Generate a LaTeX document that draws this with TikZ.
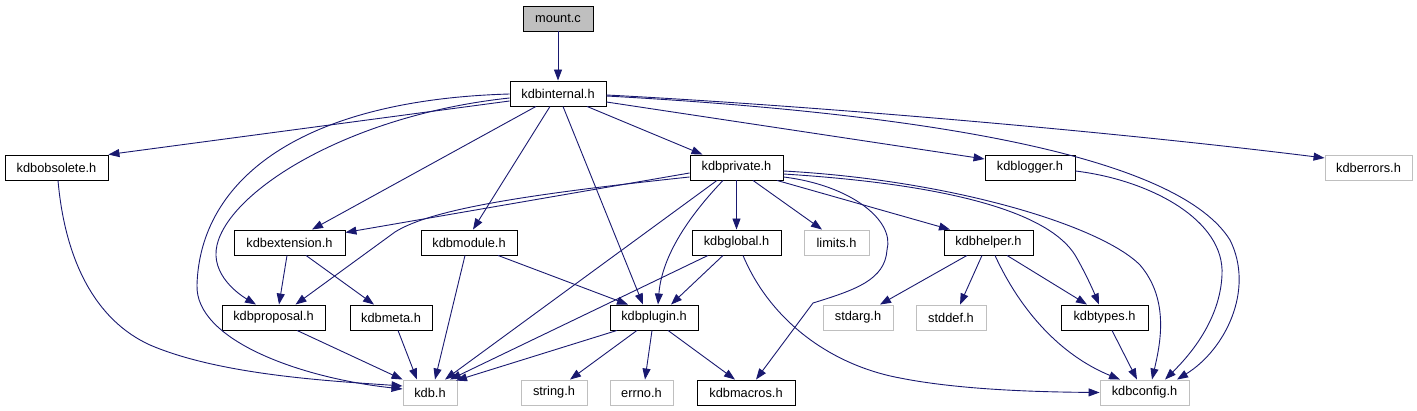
\documentclass[tikz,border=0pt]{standalone}
\usepackage{fontspec}
\setmainfont{Liberation Sans}
\usetikzlibrary{arrows.meta}
\definecolor{edgec}{HTML}{191970}
\definecolor{sysgray}{HTML}{BFBFBF}
\begin{document}
\begin{tikzpicture}[x=1pt,y=-1pt,
  box/.style={draw=black, line width=0.9pt, minimum height=25pt, inner sep=0pt, fill=white,
    font=\fontsize{12.8}{14}\selectfont},
  doc/.style={box},
  sys/.style={box, draw=sysgray},
  root/.style={box, fill=sysgray},
  edge/.style={draw=edgec, line width=0.9pt, -{Triangle[length=11pt,width=8pt]}}]
\useasboundingbox (0,0) rectangle (1417,411);
% row 0
\node[root, minimum width=70pt] (mount) at (558,18.5) {mount.c};
% row 1
\node[doc, minimum width=96pt] (kdbinternal) at (558,93.5) {kdbinternal.h};
% row 2
\node[doc, minimum width=103pt] (kdbobsolete) at (56.5,167.5) {kdbobsolete.h};
\node[doc, minimum width=93pt] (kdbprivate) at (736.5,167.5) {kdbprivate.h};
\node[doc, minimum width=90pt] (kdblogger) at (1030,167.5) {kdblogger.h};
\node[sys, minimum width=87pt] (kdberrors) at (1368.5,167.5) {kdberrors.h};
% row 3
\node[doc, minimum width=111pt] (kdbextension) at (289.5,242.5) {kdbextension.h};
\node[doc, minimum width=96pt] (kdbmodule) at (469,242.5) {kdbmodule.h};
\node[doc, minimum width=89pt] (kdbglobal) at (736.5,242.5) {kdbglobal.h};
\node[sys, minimum width=65pt] (limits) at (836.5,242.5) {limits.h};
\node[doc, minimum width=89pt] (kdbhelper) at (988.5,242.5) {kdbhelper.h};
% row 4
\node[doc, minimum width=103pt] (kdbproposal) at (273.5,317.5) {kdbproposal.h};
\node[doc, minimum width=82pt] (kdbmeta) at (391,317.5) {kdbmeta.h};
\node[doc, minimum width=88pt] (kdbplugin) at (654,317.5) {kdbplugin.h};
\node[sys, minimum width=70pt] (stdarg) at (858,317.5) {stdarg.h};
\node[sys, minimum width=70pt] (stddef) at (951,317.5) {stddef.h};
\node[doc, minimum width=87pt] (kdbtypes) at (1104.5,317.5) {kdbtypes.h};
% row 5
\node[sys, minimum width=54pt] (kdb) at (430,392.5) {kdb.h};
\node[sys, minimum width=66pt] (string) at (554,392.5) {string.h};
\node[sys, minimum width=63pt] (errno) at (641.5,392.5) {errno.h};
\node[doc, minimum width=98pt] (kdbmacros) at (746,392.5) {kdbmacros.h};
\node[sys, minimum width=89pt] (kdbconfig) at (1144.5,392.5) {kdbconfig.h};

% edges from mount.c
\draw[edge] (mount.south) -- (kdbinternal.north);
% edges from kdbinternal.h
\draw[edge] ([yshift=-7.5pt]kdbinternal.west) -- (kdbobsolete.north east);
\draw[edge] ([yshift=-0.5pt]kdbinternal.west) .. controls (300,100) and (200,180) .. (197,285)
  .. controls (195,340) and (300,378) .. ([yshift=3.5pt]kdb.west);
\draw[edge] ([yshift=-4.5pt]kdbinternal.west) .. controls (350,115) and (230,190) .. (217,245)
  .. controls (210,275) and (240,295) .. ([xshift=-17.5pt]kdbproposal.north);
\draw[edge] ([xshift=-22pt]kdbinternal.south) -- ([xshift=22.5pt]kdbextension.north);
\draw[edge] ([xshift=-8pt]kdbinternal.south) -- ([xshift=4pt]kdbmodule.north);
\draw[edge] ([xshift=5pt]kdbinternal.south) -- ([xshift=-11pt]kdbplugin.north);
\draw[edge] ([xshift=29pt]kdbinternal.south) -- ([xshift=-34pt]kdbprivate.north);
\draw[edge] ([yshift=-8.5pt]kdbinternal.east) -- ([yshift=8.5pt]kdblogger.west);
\draw[edge] ([yshift=-1.5pt]kdbinternal.east) .. controls (800,105) and (1100,130) .. ([yshift=9.5pt]kdberrors.west);
\draw[edge] ([yshift=-2.5pt]kdbinternal.east) .. controls (950,115) and (1180,160) .. (1230,240)
  .. controls (1255,290) and (1225,350) .. ([xshift=32.5pt]kdbconfig.north);
% kdblogger / kdbobsolete
\draw[edge] ([yshift=-3.5pt]kdblogger.east) .. controls (1150,180) and (1225,220) .. (1222,275)
  .. controls (1220,320) and (1190,355) .. ([xshift=20.5pt]kdbconfig.north);
\draw[edge] ([xshift=1.5pt]kdbobsolete.south) .. controls (65,260) and (95,320) .. (150,345)
  .. controls (220,375) and (330,381) .. ([yshift=6.5pt]kdb.west);
% edges from kdbprivate.h
\draw[edge] ([yshift=-5.5pt]kdbprivate.west) -- ([yshift=10pt]kdbextension.east);
\draw[edge] ([yshift=-9.5pt]kdbprivate.west) .. controls (520,195) and (430,210) .. (395,232)
  -- ([xshift=22pt]kdbproposal.north);
\draw[edge] ([xshift=-19.5pt]kdbprivate.south) -- ([xshift=15pt]kdb.north);
\draw[edge] ([xshift=-13.5pt]kdbprivate.south) .. controls (690,215) and (662,255) .. ([xshift=4pt]kdbplugin.north);
\draw[edge] (kdbprivate.south) -- (kdbglobal.north);
\draw[edge] ([xshift=16.5pt]kdbprivate.south) -- ([xshift=-14.5pt]limits.north);
\draw[edge] ([xshift=40.5pt]kdbprivate.south) -- ([xshift=-38.5pt]kdbhelper.north);
\draw[edge] ([yshift=-9.5pt]kdbprivate.east) .. controls (850,185) and (895,220) .. (887,250)
  .. controls (885,280) and (855,290) .. (813,303) -- ([xshift=10pt]kdbmacros.north);
\draw[edge] ([yshift=-6.5pt]kdbprivate.east) .. controls (960,185) and (1050,215) .. (1075,255)
  .. controls (1085,272) and (1093,290) .. ([xshift=-5.5pt]kdbtypes.north);
\draw[edge] ([yshift=-3.5pt]kdbprivate.east) .. controls (950,180) and (1100,225) .. (1140,265)
  .. controls (1170,300) and (1160,345) .. ([xshift=7.5pt]kdbconfig.north);
% row 3 sources
\draw[edge] ([xshift=-2.5pt]kdbextension.south) -- ([xshift=5.5pt]kdbproposal.north);
\draw[edge] ([xshift=16.5pt]kdbextension.south) -- ([xshift=-17pt]kdbmeta.north);
\draw[edge] ([xshift=-4pt]kdbmodule.south) -- ([xshift=5pt]kdb.north);
\draw[edge] ([xshift=29pt]kdbmodule.south) -- ([xshift=-26pt]kdbplugin.north);
\draw[edge] ([xshift=-28.5pt]kdbglobal.south) -- ([xshift=20pt]kdb.north);
\draw[edge] ([xshift=-13.5pt]kdbglobal.south) -- ([xshift=17pt]kdbplugin.north);
\draw[edge] ([xshift=6.5pt]kdbglobal.south) .. controls (770,320) and (830,365) .. (900,378)
  .. controls (960,390) and (1040,392) .. (kdbconfig.west);
\draw[edge] ([xshift=-21.5pt]kdbhelper.south) -- ([xshift=22pt]stdarg.north);
\draw[edge] ([xshift=-6.5pt]kdbhelper.south) -- ([xshift=9pt]stddef.north);
\draw[edge] ([xshift=6.5pt]kdbhelper.south) .. controls (1020,310) and (1060,355) .. ([xshift=-24.5pt]kdbconfig.north);
\draw[edge] ([xshift=18.5pt]kdbhelper.south) -- ([xshift=-17.5pt]kdbtypes.north);
% row 4 sources
\draw[edge] ([xshift=7.5pt]kdbtypes.south) -- ([xshift=-7.5pt]kdbconfig.north);
\draw[edge] ([xshift=23.5pt]kdbproposal.south) -- (kdb.north west);
\draw[edge] ([xshift=7pt]kdbmeta.south) -- ([xshift=-13pt]kdb.north);
\draw[edge] ([xshift=-37pt]kdbplugin.south) -- ([xshift=26pt,yshift=-1pt]kdb.north);
\draw[edge] ([xshift=-17pt]kdbplugin.south) -- ([xshift=16pt]string.north);
\draw[edge] ([xshift=-2pt]kdbplugin.south) -- ([xshift=3.5pt]errno.north);
\draw[edge] ([xshift=14pt]kdbplugin.south) -- ([xshift=-11pt]kdbmacros.north);
\end{tikzpicture}
\end{document}
